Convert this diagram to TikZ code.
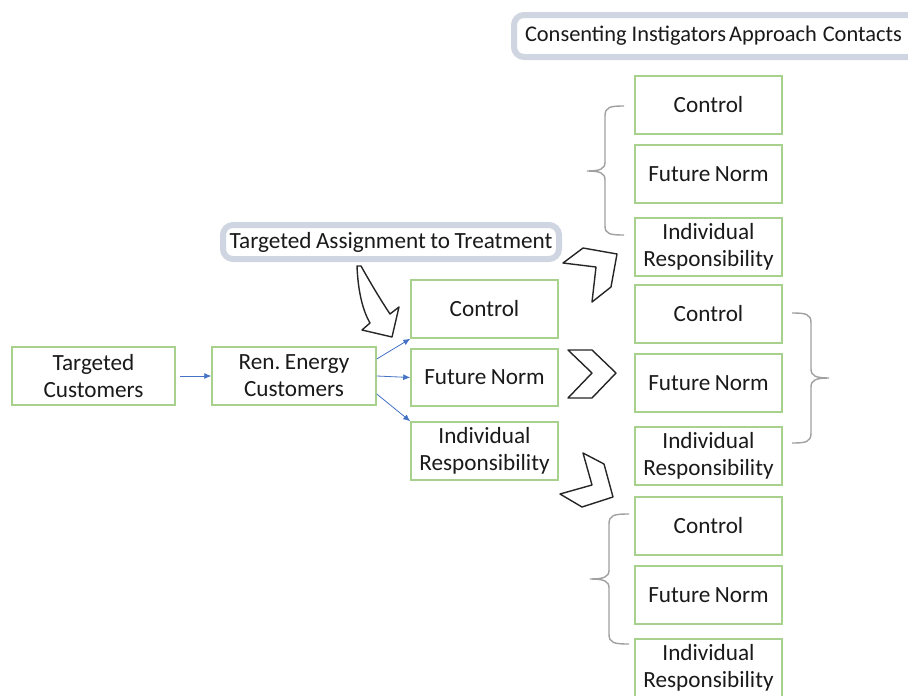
\documentclass[tikz,border=0pt]{standalone}
\usepackage{fontspec}
\setmainfont{Carlito}
\usetikzlibrary{arrows.meta}
\definecolor{boxgreen}{HTML}{A9D18E}
\definecolor{arrblue}{HTML}{4472C4}
\definecolor{callgray}{HTML}{D0D6E1}
\definecolor{bracegray}{HTML}{A0A0A0}
\definecolor{txt}{HTML}{1A1A1A}
\newcommand{\diagfont}{\fontsize{23.2}{27}\selectfont\frenchspacing}
\newcommand{\wsp}{\hspace{4.5pt}}
\tikzset{
  box/.style={draw=boxgreen, line width=1.5pt, fill=white, minimum width=147pt, minimum height=58pt,
    align=center, inner sep=2pt, text=txt, font=\diagfont},
  callout/.style={draw=callgray, line width=6pt, rounded corners=10pt, fill=white, text=txt,
    font=\diagfont},
  flow/.style={draw=arrblue, line width=0.8pt, -{Latex[length=7pt,width=6pt]}},
  blockarrow/.style={draw=black!85, line width=1.4pt, fill=white, line join=round},
  bracestyle/.style={draw=bracegray, line width=1.4pt}
}
\begin{document}
\begin{tikzpicture}[x=1pt,y=-1pt]
\useasboundingbox (0,0) rectangle (908,696);
\clip (0,0) rectangle (908,696);

% column 1 and 2
\node[box, minimum width=163pt] (tc) at (93.5,376) {Targeted\\Customers};
\node[box, minimum width=164pt] (ren) at (294,376) {Ren.\wsp Energy\\Customers};
\node[box] (c2a) at (484.5,309) {Control};
\node[box, minimum height=57pt] (c2b) at (484.5,377.5) {Future\wsp Norm};
\node[box] (c2c) at (484.5,451) {Individual\\Responsibility};

% column 3
\node[box] (g1a) at (708.5,105) {Control};
\node[box] (g1b) at (708.5,174) {Future\wsp Norm};
\node[box] (g1c) at (708.5,247) {Individual\\Responsibility};
\node[box] (g2a) at (708.5,314) {Control};
\node[box] (g2b) at (708.5,383) {Future\wsp Norm};
\node[box] (g2c) at (708.5,456) {Individual\\Responsibility};
\node[box] (g3a) at (708.5,526) {Control};
\node[box] (g3b) at (708.5,595) {Future\wsp Norm};
\node[box] (g3c) at (708.5,668) {Individual\\Responsibility};

% callouts
\node[callout, anchor=west, text width=400pt, align=left, inner xsep=11pt, minimum height=42pt,
  font=\fontsize{22.4}{27}\selectfont]
  (cia) at (511,36) {Consenting\hspace{5pt}Instigators\hspace{3pt}Approach\hspace{6pt}Contacts};
\node[callout, minimum width=336pt, minimum height=34pt, inner sep=2pt]
  (tat) at (391,242) {Targeted\wsp Assignment\wsp to\wsp Treatment};

% blue connectors
\draw[flow, shorten <=4pt] (tc.east) -- (ren.west);
\draw[flow] ([yshift=17pt]ren.east) -- (c2a.south west);
\draw[flow] (ren.east) -- (c2b.west);
\draw[flow] ([yshift=-18pt]ren.east) -- (c2c.north west);

% curved block arrow
\draw[blockarrow] (357,266) .. controls (358,292) and (363,311) .. (370,323)
  -- (362,330) -- (392,337) -- (399,307) -- (390,314)
  .. controls (380,299) and (370,282) .. (361,266) -- cycle;

% chevrons
\draw[blockarrow] (563,263) -- (583,248) -- (617,254) -- (611,287) -- (592,302) -- (596,267) -- cycle;
\draw[blockarrow] (568,350) -- (592,350) -- (616,373) -- (592,398) -- (568,398) -- (592,373) -- cycle;
\draw[blockarrow] (583,453) -- (604,464) -- (613,497) -- (582,507) -- (560,494) -- (592,485) -- cycle;

% braces
\draw[bracestyle] (624,106) .. controls (610,106) and (605,107) .. (605,116) -- (605,162)
  .. controls (605,169) and (600,171) .. (587,171) .. controls (600,171) and (605,173) .. (605,180)
  -- (605,226) .. controls (605,234) and (610,235) .. (624,235);
\draw[bracestyle] (792,313) .. controls (806,313) and (811,314) .. (811,323) -- (811,369)
  .. controls (811,376) and (816,378) .. (829,378) .. controls (816,378) and (811,380) .. (811,387)
  -- (811,433) .. controls (811,442) and (806,443) .. (792,443);
\draw[bracestyle] (629,514) .. controls (614,514) and (609,515) .. (609,524) -- (609,570)
  .. controls (609,577) and (604,579) .. (590,579) .. controls (604,579) and (609,581) .. (609,588)
  -- (609,634) .. controls (609,643) and (614,644) .. (629,644);
\end{tikzpicture}
\end{document}
